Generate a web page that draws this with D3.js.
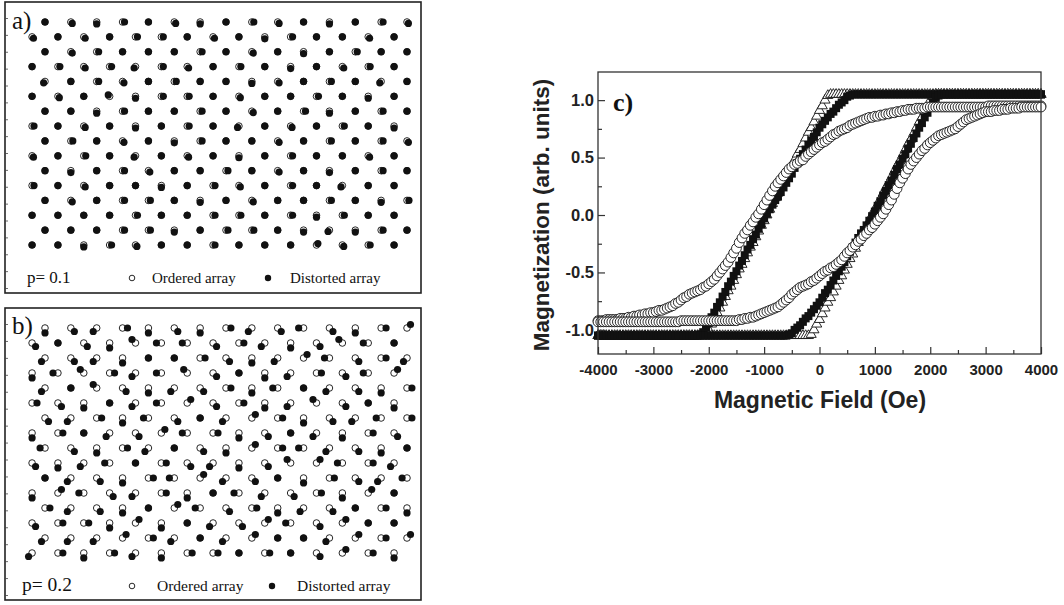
<!DOCTYPE html>
<html><head><meta charset="utf-8">
<script src="https://cdn.jsdelivr.net/npm/d3@7"></script>
<style>body{margin:0;background:#fff}svg{display:block}</style>
</head><body>
<svg id="fig" width="1064" height="605"></svg>
<script>
// ---------- Panel c data (magnetic field in Oe, magnetization in arb. units) ----------
const fieldOe = [
-4000,-3950,-3900,-3850,-3800,-3750,-3700,-3650,-3600,-3550,
-3500,-3450,-3400,-3350,-3300,-3250,-3200,-3150,-3100,-3050,
-3000,-2950,-2900,-2850,-2800,-2750,-2700,-2650,-2600,-2550,
-2500,-2450,-2400,-2350,-2300,-2250,-2200,-2150,-2100,-2050,
-2000,-1950,-1900,-1850,-1800,-1750,-1700,-1650,-1600,-1550,
-1500,-1450,-1400,-1350,-1300,-1250,-1200,-1150,-1100,-1050,
-1000,-950,-900,-850,-800,-750,-700,-650,-600,-550,
-500,-450,-400,-350,-300,-250,-200,-150,-100,-50,
0,50,100,150,200,250,300,350,400,450,
500,550,600,650,700,750,800,850,900,950,
1000,1050,1100,1150,1200,1250,1300,1350,1400,1450,
1500,1550,1600,1650,1700,1750,1800,1850,1900,1950,
2000,2050,2100,2150,2200,2250,2300,2350,2400,2450,
2500,2550,2600,2650,2700,2750,2800,2850,2900,2950,
3000,3050,3100,3150,3200,3250,3300,3350,3400,3450,
3500,3550,3600,3650,3700,3750,3800,3850,3900,3950,
4000];

// open circles, decreasing-field branch
const circleDown = [
-0.92,-0.92,-0.92,-0.91,-0.91,-0.91,-0.91,-0.91,-0.90,-0.90,
-0.90,-0.89,-0.89,-0.88,-0.88,-0.87,-0.87,-0.86,-0.86,-0.85,
-0.85,-0.84,-0.83,-0.83,-0.82,-0.81,-0.80,-0.79,-0.77,-0.76,
-0.74,-0.72,-0.71,-0.69,-0.68,-0.67,-0.66,-0.65,-0.63,-0.62,
-0.60,-0.58,-0.56,-0.53,-0.50,-0.47,-0.44,-0.41,-0.37,-0.33,
-0.29,-0.24,-0.20,-0.16,-0.13,-0.09,-0.06,-0.02,0.01,0.05,
0.09,0.13,0.17,0.21,0.25,0.28,0.31,0.34,0.37,0.40,
0.42,0.44,0.45,0.47,0.48,0.51,0.53,0.55,0.57,0.59,
0.61,0.63,0.64,0.66,0.68,0.70,0.71,0.73,0.74,0.75,
0.76,0.78,0.79,0.80,0.81,0.82,0.83,0.84,0.85,0.85,
0.86,0.86,0.87,0.87,0.88,0.88,0.89,0.89,0.90,0.90,
0.91,0.91,0.92,0.92,0.92,0.93,0.93,0.93,0.93,0.94,
0.94,0.94,0.94,0.94,0.94,0.94,0.94,0.94,0.94,0.94,
0.94,0.94,0.94,0.94,0.94,0.94,0.94,0.94,0.94,0.94,
0.94,0.95,0.95,0.95,0.95,0.95,0.95,0.95,0.95,0.95,
0.95,0.95,0.95,0.95,0.95,0.95,0.95,0.95,0.95,0.95,
0.95];
// open circles, increasing-field branch
const circleUp = [
-0.93,-0.93,-0.93,-0.93,-0.93,-0.93,-0.93,-0.93,-0.93,-0.93,
-0.93,-0.93,-0.93,-0.93,-0.93,-0.93,-0.93,-0.93,-0.93,-0.93,
-0.93,-0.93,-0.93,-0.93,-0.93,-0.93,-0.93,-0.93,-0.93,-0.93,
-0.92,-0.92,-0.92,-0.92,-0.92,-0.92,-0.92,-0.92,-0.92,-0.92,
-0.92,-0.92,-0.92,-0.92,-0.92,-0.92,-0.92,-0.92,-0.92,-0.92,
-0.92,-0.91,-0.91,-0.90,-0.90,-0.89,-0.89,-0.88,-0.87,-0.86,
-0.85,-0.84,-0.83,-0.82,-0.81,-0.80,-0.78,-0.76,-0.74,-0.72,
-0.69,-0.67,-0.65,-0.63,-0.62,-0.61,-0.60,-0.58,-0.57,-0.55,
-0.53,-0.51,-0.49,-0.48,-0.46,-0.45,-0.43,-0.41,-0.39,-0.36,
-0.33,-0.31,-0.28,-0.26,-0.23,-0.21,-0.18,-0.16,-0.13,-0.11,
-0.08,-0.05,-0.02,0.01,0.05,0.09,0.13,0.18,0.23,0.28,
0.32,0.36,0.40,0.44,0.47,0.50,0.53,0.56,0.58,0.61,
0.63,0.65,0.67,0.69,0.70,0.71,0.72,0.73,0.74,0.75,
0.77,0.79,0.81,0.83,0.84,0.85,0.86,0.87,0.88,0.89,
0.90,0.90,0.90,0.91,0.91,0.91,0.92,0.92,0.92,0.93,
0.93,0.93,0.93,0.94,0.94,0.94,0.94,0.94,0.94,0.94,
0.94];
// filled squares
const squareDown = [
-1.05,-1.05,-1.05,-1.05,-1.05,-1.05,-1.05,-1.05,-1.05,-1.05,
-1.05,-1.05,-1.05,-1.05,-1.05,-1.05,-1.05,-1.05,-1.05,-1.05,
-1.05,-1.05,-1.05,-1.05,-1.05,-1.05,-1.05,-1.05,-1.05,-1.05,
-1.05,-1.05,-1.05,-1.05,-1.05,-1.05,-1.05,-1.04,-1.02,-0.98,
-0.94,-0.89,-0.85,-0.80,-0.76,-0.71,-0.67,-0.62,-0.58,-0.53,
-0.49,-0.44,-0.40,-0.35,-0.30,-0.26,-0.21,-0.17,-0.12,-0.08,
-0.03,0.01,0.05,0.09,0.13,0.16,0.20,0.24,0.28,0.32,
0.36,0.41,0.45,0.49,0.53,0.57,0.61,0.65,0.68,0.72,
0.76,0.79,0.82,0.85,0.88,0.90,0.93,0.96,0.98,1.00,
1.03,1.04,1.05,1.05,1.05,1.05,1.05,1.05,1.05,1.05,
1.05,1.05,1.05,1.05,1.05,1.05,1.05,1.05,1.05,1.05,
1.05,1.05,1.05,1.05,1.05,1.05,1.05,1.05,1.05,1.05,
1.05,1.05,1.05,1.05,1.05,1.05,1.05,1.05,1.05,1.05,
1.05,1.05,1.05,1.05,1.05,1.05,1.05,1.05,1.05,1.05,
1.05,1.05,1.05,1.05,1.05,1.05,1.05,1.05,1.05,1.05,
1.05,1.05,1.05,1.05,1.05,1.05,1.05,1.05,1.05,1.05,
1.05];
const squareUp = [
-1.05,-1.05,-1.05,-1.05,-1.05,-1.05,-1.05,-1.05,-1.05,-1.05,
-1.05,-1.05,-1.05,-1.05,-1.05,-1.05,-1.05,-1.05,-1.05,-1.05,
-1.05,-1.05,-1.05,-1.05,-1.05,-1.05,-1.05,-1.05,-1.05,-1.05,
-1.05,-1.05,-1.05,-1.05,-1.05,-1.05,-1.05,-1.05,-1.05,-1.05,
-1.05,-1.05,-1.05,-1.05,-1.05,-1.05,-1.05,-1.05,-1.05,-1.05,
-1.05,-1.05,-1.05,-1.05,-1.05,-1.05,-1.05,-1.05,-1.05,-1.05,
-1.05,-1.05,-1.05,-1.05,-1.05,-1.05,-1.05,-1.05,-1.05,-1.04,
-1.03,-1.00,-0.98,-0.96,-0.93,-0.90,-0.88,-0.85,-0.82,-0.79,
-0.76,-0.72,-0.68,-0.65,-0.61,-0.57,-0.53,-0.49,-0.45,-0.41,
-0.36,-0.32,-0.28,-0.24,-0.20,-0.16,-0.13,-0.09,-0.05,-0.01,
0.03,0.08,0.12,0.17,0.21,0.26,0.30,0.35,0.40,0.44,
0.49,0.53,0.58,0.62,0.67,0.71,0.76,0.80,0.85,0.89,
0.94,0.98,1.02,1.04,1.05,1.05,1.05,1.05,1.05,1.05,
1.05,1.05,1.05,1.05,1.05,1.05,1.05,1.05,1.05,1.05,
1.05,1.05,1.05,1.05,1.05,1.05,1.05,1.05,1.05,1.05,
1.05,1.05,1.05,1.05,1.05,1.05,1.05,1.05,1.05,1.05,
1.05];
// open triangles
const triangleDown = [
-1.05,-1.05,-1.05,-1.05,-1.05,-1.05,-1.05,-1.05,-1.05,-1.05,
-1.05,-1.05,-1.05,-1.05,-1.05,-1.05,-1.05,-1.05,-1.05,-1.05,
-1.05,-1.05,-1.05,-1.05,-1.05,-1.05,-1.05,-1.05,-1.05,-1.05,
-1.05,-1.05,-1.05,-1.05,-1.05,-1.05,-1.05,-1.05,-1.05,-1.03,
-1.00,-0.95,-0.90,-0.85,-0.81,-0.76,-0.71,-0.66,-0.62,-0.57,
-0.52,-0.47,-0.43,-0.38,-0.33,-0.28,-0.24,-0.19,-0.14,-0.09,
-0.05,0.00,0.05,0.10,0.15,0.19,0.24,0.29,0.34,0.38,
0.43,0.48,0.53,0.57,0.62,0.67,0.72,0.76,0.81,0.86,
0.91,0.95,1.00,1.04,1.05,1.05,1.05,1.05,1.05,1.05,
1.05,1.05,1.05,1.05,1.05,1.05,1.05,1.05,1.05,1.05,
1.05,1.05,1.05,1.05,1.05,1.05,1.05,1.05,1.05,1.05,
1.05,1.05,1.05,1.05,1.05,1.05,1.05,1.05,1.05,1.05,
1.05,1.05,1.05,1.05,1.05,1.05,1.05,1.05,1.05,1.05,
1.05,1.05,1.05,1.05,1.05,1.05,1.05,1.05,1.05,1.05,
1.05,1.05,1.05,1.05,1.05,1.05,1.05,1.05,1.05,1.05,
1.05,1.05,1.05,1.05,1.05,1.05,1.05,1.05,1.05,1.05,
1.05];
const triangleUp = [
-1.05,-1.05,-1.05,-1.05,-1.05,-1.05,-1.05,-1.05,-1.05,-1.05,
-1.05,-1.05,-1.05,-1.05,-1.05,-1.05,-1.05,-1.05,-1.05,-1.05,
-1.05,-1.05,-1.05,-1.05,-1.05,-1.05,-1.05,-1.05,-1.05,-1.05,
-1.05,-1.05,-1.05,-1.05,-1.05,-1.05,-1.05,-1.05,-1.05,-1.05,
-1.05,-1.05,-1.05,-1.05,-1.05,-1.05,-1.05,-1.05,-1.05,-1.05,
-1.05,-1.05,-1.05,-1.05,-1.05,-1.05,-1.05,-1.05,-1.05,-1.05,
-1.05,-1.05,-1.05,-1.05,-1.05,-1.05,-1.05,-1.05,-1.05,-1.05,
-1.05,-1.05,-1.05,-1.05,-1.05,-1.05,-1.05,-1.04,-1.00,-0.95,
-0.91,-0.86,-0.81,-0.76,-0.72,-0.67,-0.62,-0.57,-0.53,-0.48,
-0.43,-0.38,-0.34,-0.29,-0.24,-0.19,-0.15,-0.10,-0.05,0.00,
0.05,0.09,0.14,0.19,0.24,0.28,0.33,0.38,0.43,0.47,
0.52,0.57,0.62,0.66,0.71,0.76,0.81,0.85,0.90,0.95,
1.00,1.03,1.05,1.05,1.05,1.05,1.05,1.05,1.05,1.05,
1.05,1.05,1.05,1.05,1.05,1.05,1.05,1.05,1.05,1.05,
1.05,1.05,1.05,1.05,1.05,1.05,1.05,1.05,1.05,1.05,
1.05,1.05,1.05,1.05,1.05,1.05,1.05,1.05,1.05,1.05,
1.05];

const fieldMajorTicks = [-4000,-3000,-2000,-1000,0,1000,2000,3000,4000];
const fieldMinorTicks = [-3500,-2500,-1500,-500,500,1500,2500,3500];
const magMajorTicks = [-1.0,-0.5,0.0,0.5,1.0];
const magMinorTicks = [-0.75,-0.25,0.25,0.75];

// ---------- Panels a, b: triangular lattice (15 columns x 16 rows) ----------
// each character = displacement direction of the distorted point from the ordered one
// 0 none, r right, l left, d down, u up, a up-right, b down-right, c down-left, e up-left
const shiftsA = [
"0bdr0bd0rb0d0rb",
"b0b0rr0b0dr00b0",
"0br000r0b0d0r00",
"0rbrcrb0r0d0br0",
"c0rb0r00db0r0c0",
"0b0edrr0b00r0d0",
"00dr00r0b0rd0r0",
"r0b0d0r0c0b0r0d",
"0r0b0dr00b0r0rb",
"b0r0c0b0d0r00b0",
"0d0rb00r0b0d0r0",
"r0b00d0rb0r0c00",
"0b0rr0d0b00r0dr",
"0000r00rr0rdr00",
"000rrd0rr0dcdr0",
"00drb00r000abr0"];
const shiftsB = [
"dbcrdbdrcblbdra",
"b0bdellbrcdbel0",
"cbcd00rbdcalbrc",
"dlercleb0dcrbla",
"c0ebdcbrdl0cbdr",
"rbd0clabrdceb0d",
"bcrdlb0cardbclr",
"dr0cbalrdb0cdrb",
"lbdrc0bdarlcbd0",
"bdcl0rbcdbealrc",
"0cbdrlacb0drbcl",
"dalbcrd0lcbrda0",
"rcbd0albrdcb0rd",
"brrdad0cbalba00",
"cccarc0ca00cara",
"crdrcdrr0r0bard"];
const shiftSizeA = 0.075;   // lattice units
const shiftSizeB = 0.19;
const panelLabels = ["a)", "b)"];
const pLabels = ["p= 0.1", "p= 0.2"];
const legendLabels = ["Ordered array", "Distorted array"];

// ---------- drawing ----------
const svg = d3.select("#fig");
const serif = "'Liberation Serif','Times New Roman',serif";
const sans = "'Liberation Sans',Arial,Helvetica,sans-serif";

const dirs = {"0":[0,0],r:[1,0],l:[-1,0],u:[0,-1],d:[0,1],
  a:[0.71,-0.71],b:[0.71,0.71],c:[-0.71,0.71],e:[-0.71,-0.71]};

const latX = d3.scaleLinear().domain([0,14]).range([45,407]);
const panels = [
  {shifts: shiftsA, size: shiftSizeA, top: 2, bottom: 293, y: d3.scaleLinear().domain([0,15]).range([22,245]),
   label: panelLabels[0], labelY: 29, p: pLabels[0], pSize: 17, legY: 283, legSize: 15,
   legX: [27,132,152,268,290]},
  {shifts: shiftsB, size: shiftSizeB, top: 308, bottom: 600, y: d3.scaleLinear().domain([0,15]).range([328,553]),
   label: panelLabels[1], labelY: 334, p: pLabels[1], pSize: 19.5, legY: 591, legSize: 15.5,
   legX: [22,132,157,272,297]}
];

panels.forEach(P => {
  const g = svg.append("g");
  g.append("rect").attr("x",5).attr("y",P.top).attr("width",416).attr("height",P.bottom-P.top)
    .attr("fill","none").attr("stroke","#222").attr("stroke-width",1.6);
  // small edge ticks on the left border
  const edge = d3.scaleLinear().domain([0,16]).range([P.top+16, P.bottom-5]);
  g.append("g").attr("transform","translate(5,0)")
    .call(d3.axisRight(edge).tickValues(d3.range(0,17)).tickSize(3).tickFormat(""))
    .call(a=>a.select(".domain").remove())
    .selectAll("line").attr("stroke","#444").attr("stroke-width",0.8);

  const pts = [];
  P.shifts.forEach((row, r) => {
    row.split("").forEach((ch, c) => {
      const lx = c - 0.5*(r % 2);
      const dv = dirs[ch] || [0,0];
      pts.push({ox: lx, oy: r, sx: dv[0]*P.size, sy: dv[1]*P.size});
    });
  });
  const ys = P.y;
  const unitX = (latX(1)-latX(0));
  g.selectAll("circle.ord").data(pts).join("circle").attr("class","ord")
    .attr("cx",d=>latX(d.ox)).attr("cy",d=>ys(d.oy)).attr("r",3.3)
    .attr("fill","#fff").attr("stroke","#111").attr("stroke-width",0.9);
  g.selectAll("circle.dis").data(pts).join("circle").attr("class","dis")
    .attr("cx",d=>latX(d.ox + d.sx)).attr("cy",d=>ys(d.oy) + d.sy*unitX)
    .attr("r",3.6).attr("fill","#111");

  g.append("text").attr("x",12).attr("y",P.labelY).text(P.label)
    .attr("font-family",serif).attr("font-size",25).attr("fill","#111");
  g.append("text").attr("x",P.legX[0]).attr("y",P.legY).text(P.p)
    .attr("font-family",serif).attr("font-size",P.pSize).attr("fill","#111");
  g.append("circle").attr("cx",P.legX[1]).attr("cy",P.legY-5).attr("r",2.8)
    .attr("fill","#fff").attr("stroke","#111").attr("stroke-width",0.9);
  g.append("text").attr("x",P.legX[2]).attr("y",P.legY).text(legendLabels[0])
    .attr("font-family",serif).attr("font-size",P.legSize).attr("fill","#111");
  g.append("circle").attr("cx",P.legX[3]).attr("cy",P.legY-5).attr("r",3.2).attr("fill","#111");
  g.append("text").attr("x",P.legX[4]).attr("y",P.legY).text(legendLabels[1])
    .attr("font-family",serif).attr("font-size",P.legSize).attr("fill","#111");
});

// ---------- panel c ----------
const X0 = 598, X1 = 1041, Y0 = 354, Y1 = 72;
const x = d3.scaleLinear().domain([-4000,4000]).range([X0,X1]);
const y = d3.scaleLinear().domain([-1.21,1.245]).range([Y0,Y1]);
const gc = svg.append("g");

const tri = d3.symbol().type(d3.symbolTriangle).size(44);
function pairs(arr){ return arr.map((m,i)=>({h: fieldOe[i], m})); }

// triangles (bottom layer)
[triangleDown, triangleUp].forEach(arr => {
  gc.append("g").selectAll("path").data(pairs(arr)).join("path")
    .attr("d", tri).attr("transform", d=>`translate(${x(d.h)},${y(d.m)})`)
    .attr("fill","#fff").attr("stroke","#111").attr("stroke-width",0.9);
});
// squares
[squareDown, squareUp].forEach(arr => {
  gc.append("g").selectAll("rect").data(pairs(arr)).join("rect")
    .attr("x", d=>x(d.h)-4).attr("y", d=>y(d.m)-4).attr("width",8).attr("height",8)
    .attr("fill","#111");
});
// circles (top)
[circleDown, circleUp].forEach(arr => {
  gc.append("g").selectAll("circle").data(pairs(arr)).join("circle")
    .attr("cx", d=>x(d.h)).attr("cy", d=>y(d.m)).attr("r",4.9)
    .attr("fill","#fff").attr("stroke","#111").attr("stroke-width",0.9);
});

// frame
gc.append("rect").attr("x",X0).attr("y",Y1).attr("width",X1-X0).attr("height",Y0-Y1)
  .attr("fill","none").attr("stroke","#333").attr("stroke-width",1.3);

// axes
const ax = gc.append("g").attr("transform",`translate(0,${Y0})`)
  .call(d3.axisBottom(x).tickValues(fieldMajorTicks).tickSize(-7).tickPadding(10));
const axm = gc.append("g").attr("transform",`translate(0,${Y0})`)
  .call(d3.axisBottom(x).tickValues(fieldMinorTicks).tickSize(-4).tickFormat(""));
const ay = gc.append("g").attr("transform",`translate(${X0},0)`)
  .call(d3.axisLeft(y).tickValues(magMajorTicks).tickSize(-7).tickPadding(4));
const aym = gc.append("g").attr("transform",`translate(${X0},0)`)
  .call(d3.axisLeft(y).tickValues(magMinorTicks).tickSize(-4).tickFormat(""));
[ax,axm,ay,aym].forEach(a=>{
  a.select(".domain").remove();
  a.selectAll("line").attr("stroke","#333").attr("stroke-width",1.2);
  a.selectAll("text").attr("font-family",sans).attr("font-weight","bold").attr("fill","#222");
});
ax.selectAll("text").attr("font-size",15).text(d=>String(d));
ay.selectAll("text").attr("font-size",16.5).text(d=>d.toFixed(1));

gc.append("text").attr("transform","translate(549,215) rotate(-90)")
  .attr("text-anchor","middle").text("Magnetization (arb. units)")
  .attr("font-family",sans).attr("font-weight","bold").attr("font-size",22.5).attr("fill","#222");
gc.append("text").attr("x",820).attr("y",408).attr("text-anchor","middle").text("Magnetic Field (Oe)")
  .attr("font-family",sans).attr("font-weight","bold").attr("font-size",23).attr("fill","#222");
gc.append("text").attr("x",613).attr("y",111).text("c)")
  .attr("font-family",serif).attr("font-weight","bold").attr("font-size",26).attr("fill","#111");
</script>
</body></html>
